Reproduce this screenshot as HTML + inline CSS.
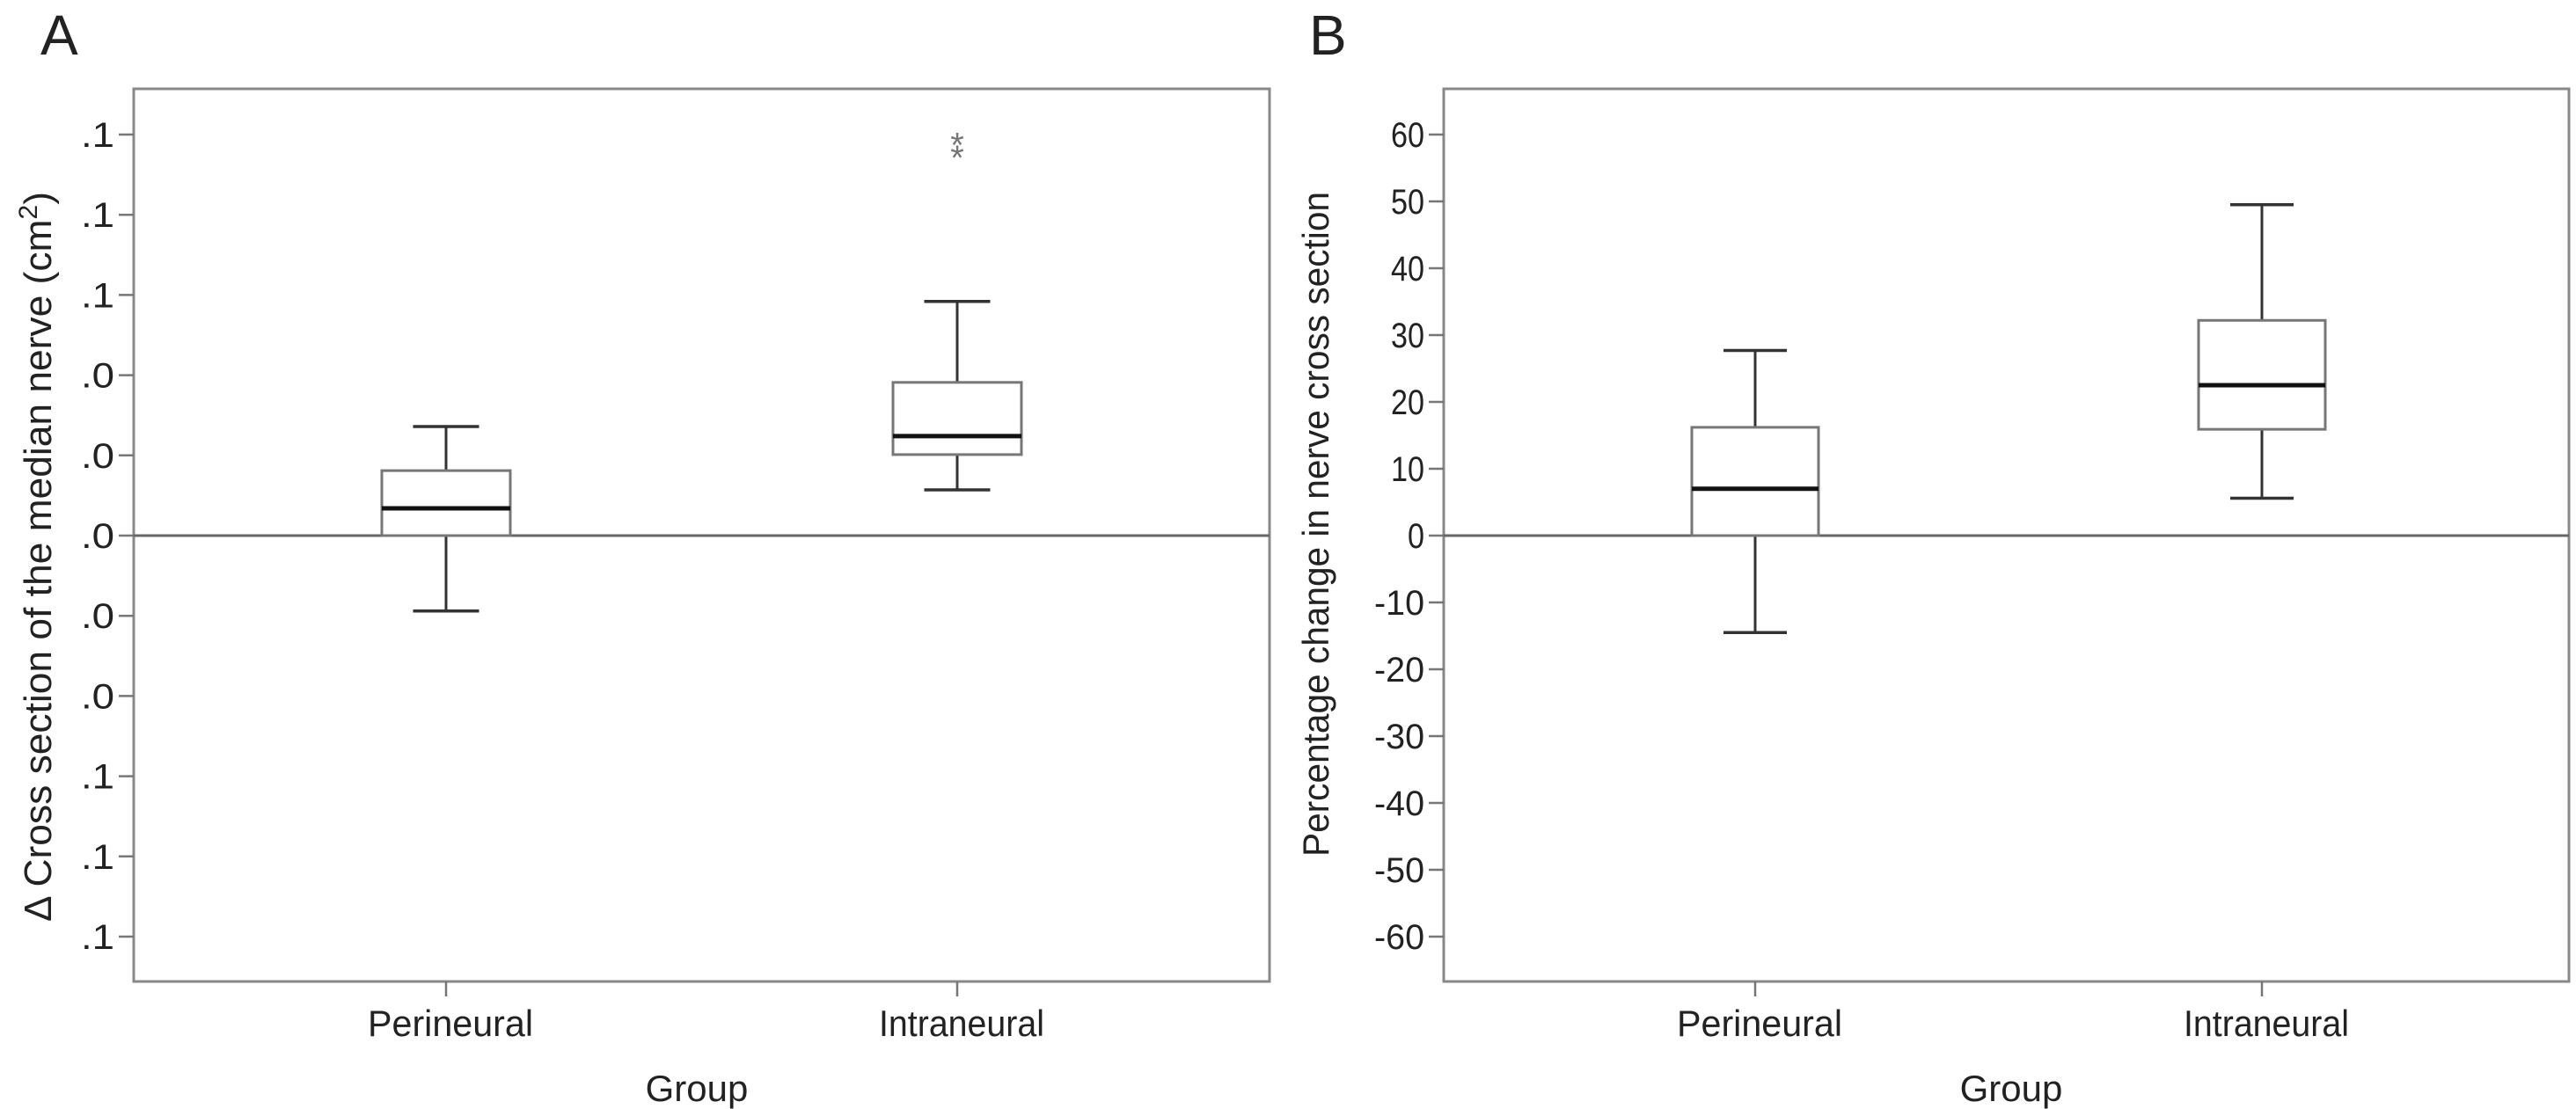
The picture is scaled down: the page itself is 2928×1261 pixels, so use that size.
<!DOCTYPE html>
<html><head><meta charset="utf-8">
<style>
html,body{margin:0;padding:0;background:#fff;}
svg{display:block;}
text{font-family:"Liberation Sans",sans-serif;fill:#222;}
</style></head>
<body>
<svg id="fig" width="2928" height="1261" viewBox="0 0 2928 1261" xmlns="http://www.w3.org/2000/svg">
<text x="46" y="62" font-size="64">A</text>
<text x="1488" y="62" font-size="64">B</text>
</svg>
<script>
// ---- Panel A data (tick units: 1 unit per tick step) ----
const catsA = ["Perineural", "Intraneural"];
const ticksA = [5, 4, 3, 2, 1, 0, -1, -2, -3, -4, -5];
const tickLabelsA = [".1", ".1", ".1", ".0", ".0", ".0", ".0", ".0", ".1", ".1", ".1"];
const whiskerHighA = [1.36, 2.92];
const q3A = [0.81, 1.91];
const medianA = [0.34, 1.24];
const q1A = [0, 1.01];
const whiskerLowA = [-0.94, 0.57];
const outliersA = [[], [4.92, 4.76]];

// ---- Panel B data (percent) ----
const catsB = ["Perineural", "Intraneural"];
const ticksB = [60, 50, 40, 30, 20, 10, 0, -10, -20, -30, -40, -50, -60];
const tickLabelsB = ["60", "50", "40", "30", "20", "10", "0", "-10", "-20", "-30", "-40", "-50", "-60"];
const whiskerHighB = [27.7, 49.5];
const q3B = [16.2, 32.2];
const medianB = [7, 22.5];
const q1B = [0, 15.9];
const whiskerLowB = [-14.5, 5.6];
const outliersB = [[], []];

const NS = "http://www.w3.org/2000/svg";
const svg = document.getElementById("fig");
function mk(tag, attrs, parent) {
  const e = document.createElementNS(NS, tag);
  for (const k in attrs) e.setAttribute(k, attrs[k]);
  (parent || svg).appendChild(e);
  return e;
}

function panel(p) {
  const g = mk("g", {});
  
  
  const y = v => p.y0 - (v - p.vmin) / (p.vmax - p.vmin) * (p.y0 - p.y1);
  const x = i => p.xc[i];
  const fr = mk("rect", {x: p.L, y: p.T, width: p.R - p.L, height: p.B - p.T, fill: "none", stroke: "#888", "stroke-width": 3}, g);
  
  
  p.ticks.forEach((t, i) => {
    const ty = y(t);
    const tl = mk("line", {x1: p.L - 17, x2: p.L, y1: ty, y2: ty, stroke: "#777", "stroke-width": 2.5}, g);
    
    
    const lb = mk("text", {x: p.L - 22, y: ty + 14, "font-size": 40, "text-anchor": "end", textLength: p.tickLabels[i].length * 19, lengthAdjust: "spacingAndGlyphs"}, g);
    lb.textContent = p.tickLabels[i];
    
    
  });
  const zl = mk("line", {x1: p.L, x2: p.R, y1: y(0), y2: y(0), stroke: "#666", "stroke-width": 3}, g);
  
  
  p.cats.forEach((c, i) => {
    const cx = x(i), bw = p.bw, cw = p.cw;
    const tk = mk("line", {x1: cx, x2: cx, y1: p.B, y2: p.B + 17, stroke: "#777", "stroke-width": 2.5}, g);
    
    
    const cl = mk("text", {x: cx + 5, y: p.B + 62, "font-size": 42, "text-anchor": "middle", textLength: 188, lengthAdjust: "spacingAndGlyphs"}, g);
    cl.textContent = c;
    
    
    const wl = mk("line", {x1: cx, x2: cx, y1: y(p.wh[i]), y2: y(p.wl[i]), stroke: "#333", "stroke-width": 3}, g);
    
    
    [p.wh[i], p.wl[i]].forEach(v => {
      const cp = mk("line", {x1: cx - cw / 2, x2: cx + cw / 2, y1: y(v), y2: y(v), stroke: "#333", "stroke-width": 3.5}, g);
      
      
    });
    const bx = mk("rect", {x: cx - bw / 2, y: y(p.q3[i]), width: bw, height: y(p.q1[i]) - y(p.q3[i]), fill: "#fff", stroke: "#777", "stroke-width": 3}, g);
    
    
    const md = mk("line", {x1: cx - bw / 2, x2: cx + bw / 2, y1: y(p.med[i]), y2: y(p.med[i]), stroke: "#111", "stroke-width": 5}, g);
    
    
    p.out[i].forEach(v => {
      const o = mk("text", {x: cx, y: y(v) + 18, "font-size": 40, "text-anchor": "middle", style: "fill:#777"}, g);
      o.textContent = "*";
      
      
    });
  });
  const xt = mk("text", {x: p.xTitle, y: 1252, "font-size": 42, "text-anchor": "middle"}, g);
  xt.textContent = "Group";
  
  
  const yt = mk("text", {x: 0, y: 0, "font-size": p.yFont, "text-anchor": "middle", textLength: p.yLen, lengthAdjust: "spacingAndGlyphs", transform: "translate(" + p.yTitleX + "," + p.yTitleY + ") rotate(-90)"}, g);
  yt.innerHTML = p.yTitle;
  
  
}

panel({name: "panel-a-chart", L: 152, R: 1443, T: 101, B: 1116, y0: 1065, y1: 153,
  vmin: -5, vmax: 5, ticks: ticksA, tickLabelsA: null, tickLabels: tickLabelsA, cats: catsA, xc: [507, 1088],
  bw: 146, cw: 75, wh: whiskerHighA, wl: whiskerLowA, q3: q3A, q1: q1A, med: medianA, out: outliersA,
  xTitle: 792, yTitleX: 58, yTitleY: 633, yFont: 44, yLen: 830,
  yTitle: '\u0394 Cross section of the median nerve (cm<tspan font-size="30" dy="-16">2</tspan><tspan dy="16">)</tspan>'});

panel({name: "panel-b-chart", L: 1641, R: 2920, T: 101, B: 1116, y0: 1065, y1: 153,
  vmin: -60, vmax: 60, ticks: ticksB, tickLabels: tickLabelsB, cats: catsB, xc: [1995, 2571],
  bw: 144, cw: 72, wh: whiskerHighB, wl: whiskerLowB, q3: q3B, q1: q1B, med: medianB, out: outliersB,
  xTitle: 2286, yTitleX: 1510, yTitleY: 596, yFont: 42, yLen: 756,
  yTitle: 'Percentage change in nerve cross section'});
</script>
</body></html>
